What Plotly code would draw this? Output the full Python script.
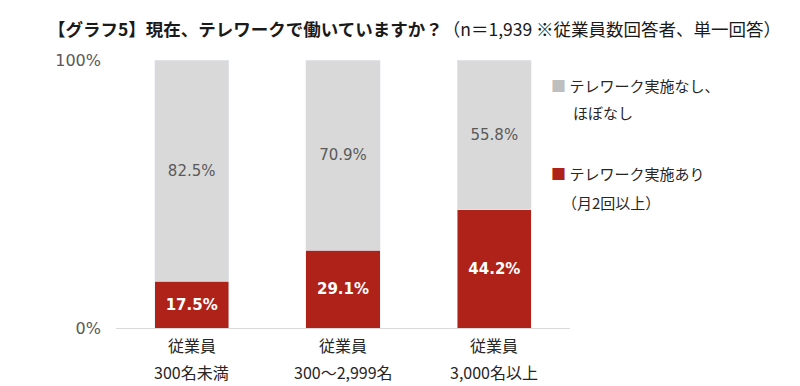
import plotly.graph_objects as go

categories = ["従業員<br>300名未満", "従業員<br>300～2,999名", "従業員<br>3,000名以上"]
cat_line1 = ["従業員", "従業員", "従業員"]
cat_line2 = ["300名未満", "300～2,999名", "3,000名以上"]
telework_yes = [17.5, 29.1, 44.2]
telework_no = [82.5, 70.9, 55.8]
legend_yes = ["テレワーク実施あり", "（月2回以上）"]
legend_no = ["テレワーク実施なし、", "ほぼなし"]

RED = "#AE2219"
GRAY = "#D9D9D9"
FONT = "Noto Sans CJK JP"
NUMFONT = "DejaVu Sans"

W, H = 800, 386
ML, MR, MT, MB = 116, 230, 60, 58

fig = go.Figure()
fig.add_trace(go.Bar(
    x=categories, y=telework_yes, name="yes", marker_color=RED,
    text=[f"{v:.1f}%" for v in telework_yes], textposition="inside",
    insidetextanchor="middle",
    textfont=dict(color="white", size=15, family=NUMFONT, weight="bold"),
    showlegend=False,
))
fig.add_trace(go.Bar(
    x=categories, y=telework_no, name="no", marker_color=GRAY,
    text=[f"{v:.1f}%" for v in telework_no], textposition="inside",
    insidetextanchor="middle",
    textfont=dict(color="#595959", size=15, family=NUMFONT),
    showlegend=False,
))

fig.update_layout(
    barmode="stack", bargap=0.51,
    width=W, height=H,
    margin=dict(l=ML, r=MR, t=MT, b=MB),
    paper_bgcolor="white", plot_bgcolor="white",
    font=dict(family=FONT, color="#404040"),
    title=dict(
        text="<b>【グラフ5】現在、テレワークで働いていますか？</b>（n＝1,939 ※従業員数回答者、単一回答）",
        x=48 / W, xanchor="left", y=1 - 30 / H, yanchor="middle",
        font=dict(size=17.5, color="#1a1a1a", family=FONT),
    ),
)
fig.update_yaxes(
    range=[0, 100], tickvals=[0, 100], ticktext=["0%", "100%"],
    showgrid=True, gridcolor="#D9D9D9", zeroline=False, showline=False,
    tickfont=dict(size=16, color="#595959", family=NUMFONT), ticklabelstandoff=14,
)
fig.update_xaxes(
    showticklabels=False, showline=True, linecolor="#D9D9D9", linewidth=1,
    showgrid=False,
)

def py(px):
    return (H - MB - px) / (H - MT - MB)

def px_x(px):
    return (px - ML) / (W - ML - MR)

cat_font = dict(size=16, color="#262626", family=FONT)
for c, l1, l2 in zip(categories, cat_line1, cat_line2):
    fig.add_annotation(x=c, xref="x", y=py(345), yref="paper", text=l1, showarrow=False,
                       font=cat_font, yanchor="middle")
    fig.add_annotation(x=c, xref="x", y=py(372), yref="paper", text=l2, showarrow=False,
                       font=cat_font, yanchor="middle")

leg_font = dict(size=15, color="#262626", family=FONT)
fig.add_annotation(x=px_x(549), y=py(85), xref="paper", yref="paper", showarrow=False,
                   xanchor="left", yanchor="middle",
                   text=f"<span style='color:#BFBFBF'>■</span> {legend_no[0]}", font=leg_font)
fig.add_annotation(x=px_x(571), y=py(112), xref="paper", yref="paper", showarrow=False,
                   xanchor="left", yanchor="middle", text=legend_no[1], font=leg_font)
fig.add_annotation(x=px_x(549), y=py(173), xref="paper", yref="paper", showarrow=False,
                   xanchor="left", yanchor="middle",
                   text=f"<span style='color:{RED}'>■</span> {legend_yes[0]}", font=leg_font)
fig.add_annotation(x=px_x(560), y=py(202), xref="paper", yref="paper", showarrow=False,
                   xanchor="left", yanchor="middle", text=legend_yes[1], font=leg_font)

fig.write_html("out.html", config={"displayModeBar": False},
               post_script="document.body.style.margin='0';")
